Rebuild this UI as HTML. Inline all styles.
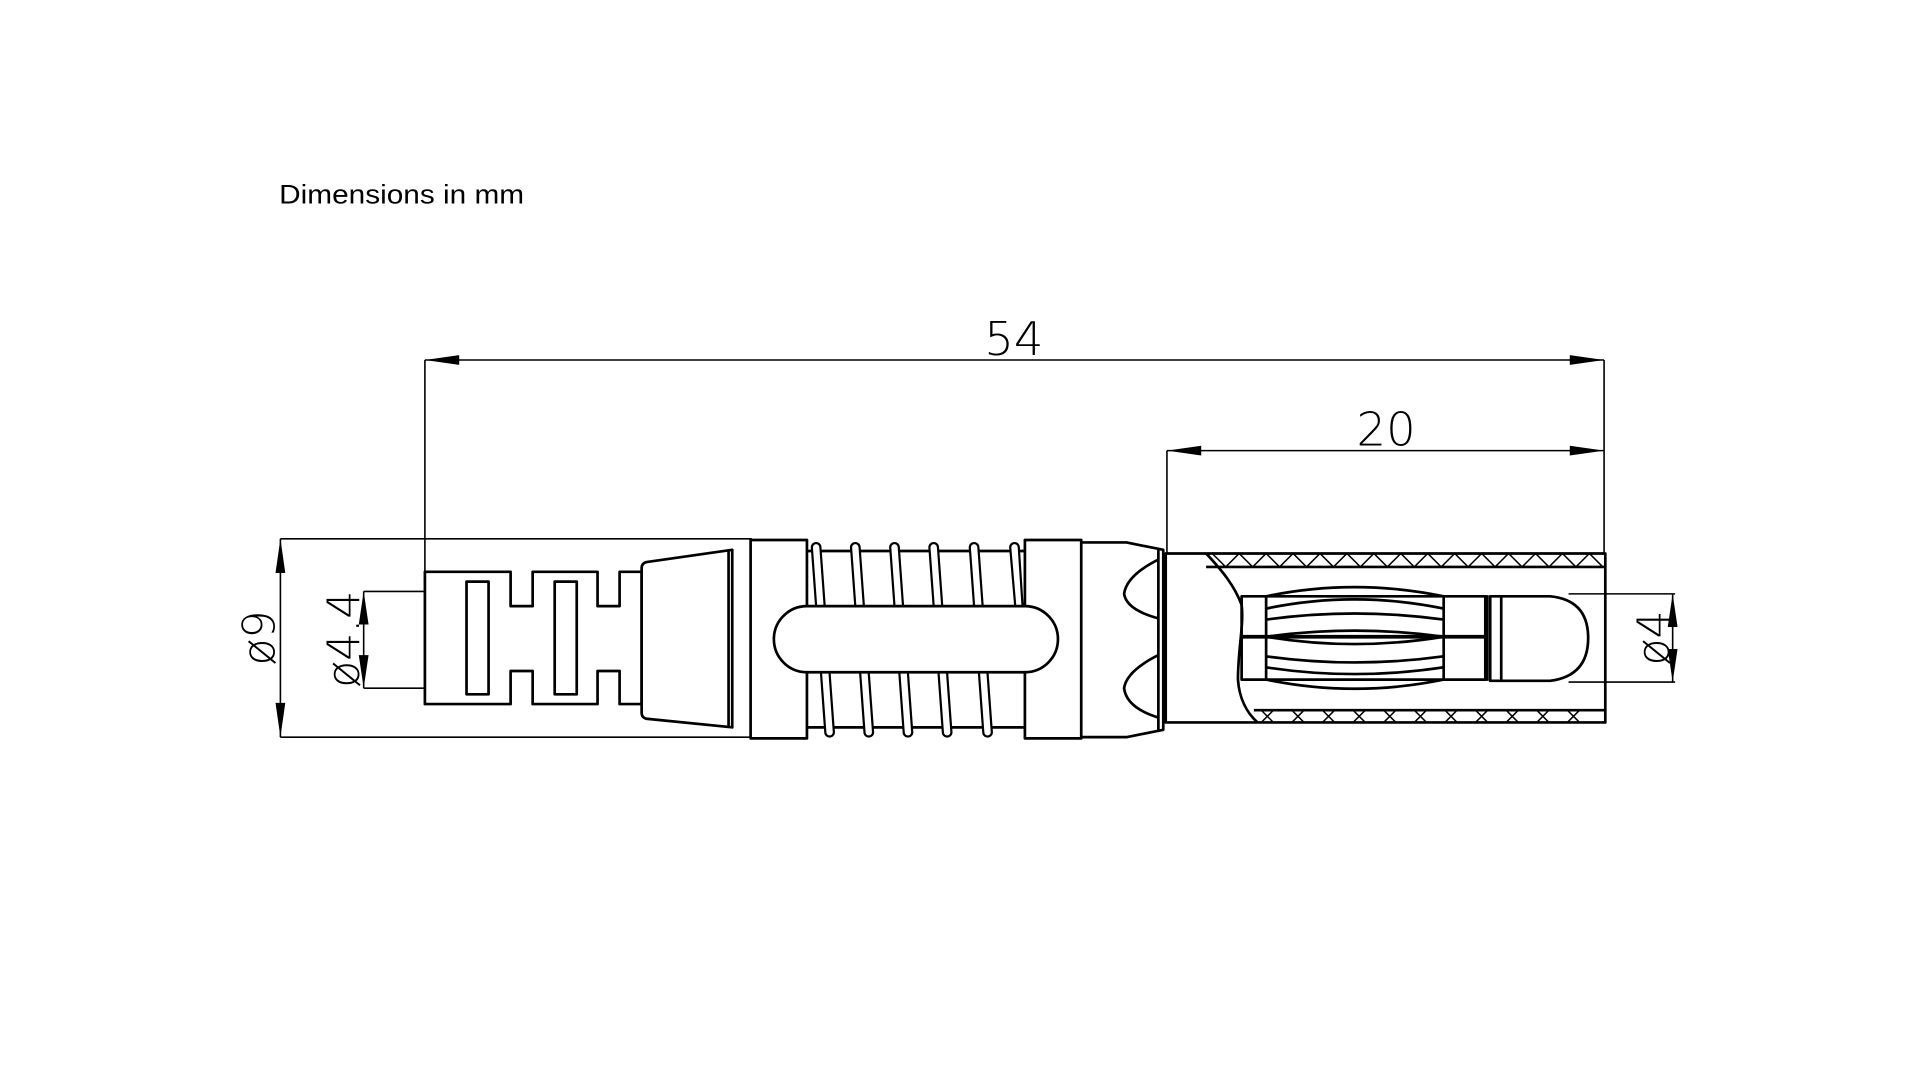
<!DOCTYPE html>
<html><head><meta charset="utf-8"><style>html,body{margin:0;padding:0;background:#fff}svg{display:block}</style></head>
<body>
<svg width="1920" height="1080" viewBox="0 0 1568 882" xmlns="http://www.w3.org/2000/svg" font-family="Liberation Sans, sans-serif">
<rect width="1568" height="882" fill="#fff"/>
<text x="228" y="166" font-size="22" textLength="200" lengthAdjust="spacingAndGlyphs">Dimensions in mm</text>
<g stroke="#000" stroke-width="1.3" fill="none">
<line x1="347" y1="294" x2="1310" y2="294"/>
<line x1="953" y1="368" x2="1310" y2="368"/>
<line x1="347" y1="294" x2="347" y2="467"/>
<line x1="953" y1="368" x2="953" y2="452"/>
<line x1="1310" y1="294" x2="1310" y2="452"/>
<line x1="229" y1="440" x2="229" y2="602"/>
<line x1="229" y1="440" x2="614" y2="440"/>
<line x1="229" y1="602" x2="614" y2="602"/>
<line x1="297" y1="483" x2="297" y2="562"/>
<line x1="297" y1="483" x2="347" y2="483"/>
<line x1="297" y1="562" x2="347" y2="562"/>
<line x1="1366" y1="485" x2="1366" y2="557"/>
<line x1="1281" y1="485" x2="1368" y2="485"/>
<line x1="1281" y1="557" x2="1368" y2="557"/>
</g>
<g fill="#000">
<polygon points="347,294 375,290 375,298"/>
<polygon points="1310,294 1282,290 1282,298"/>
<polygon points="953,368 981,364 981,372"/>
<polygon points="1310,368 1282,364 1282,372"/>
<polygon points="229,440 225,468 233,468"/>
<polygon points="229,602 225,574 233,574"/>
<polygon points="297,483 293,510 301,510"/>
<polygon points="297,562 293,535 301,535"/>
<polygon points="1366,485 1362,512 1370,512"/>
<polygon points="1366,557 1362,530 1370,530"/>
</g>
<g font-family="DejaVu Sans, sans-serif" font-weight="200" fill="#000">
<text x="828" y="290" font-size="38" text-anchor="middle">54</text>
<text x="1132" y="364" font-size="38" text-anchor="middle">20</text>
<text transform="translate(224,521) rotate(-90)" font-size="36" text-anchor="middle">ø9</text>
<text transform="translate(293,522) rotate(-90)" font-size="36" text-anchor="middle">ø4.4</text>
<text transform="translate(1363,521) rotate(-90)" font-size="36" text-anchor="middle">ø4</text>
</g>
<g stroke="#000" stroke-width="2.2" fill="none" stroke-linejoin="round">
<path d="M347,467 H417 V495 H435 V467 H488 V495 H506 V467 H524 V575 H506 V548 H488 V575 H435 V548 H417 V575 H347 Z"/>
<rect x="381" y="475" width="18" height="92"/>
<rect x="453" y="475" width="18" height="92"/>
<path d="M528,459 L598,449 V594 L528,587 Q524,586 524,582 V464 Q524,460 528,459 Z"/>
<line x1="595" y1="449" x2="595" y2="594"/>
<line x1="659" y1="450" x2="837" y2="450"/>
<line x1="659" y1="594" x2="837" y2="594"/>
<g stroke-width="1.8" fill="#fff">
<path d="M663,447 A3.5,3.5 0 0 1 670,447 L681,598 A3.5,3.5 0 0 1 674,598 Z"/>
<path d="M695,447 A3.5,3.5 0 0 1 702,447 L713,598 A3.5,3.5 0 0 1 706,598 Z"/>
<path d="M727,447 A3.5,3.5 0 0 1 734,447 L745,598 A3.5,3.5 0 0 1 738,598 Z"/>
<path d="M759,447 A3.5,3.5 0 0 1 766,447 L777,598 A3.5,3.5 0 0 1 770,598 Z"/>
<path d="M792,447 A3.5,3.5 0 0 1 799,447 L810,598 A3.5,3.5 0 0 1 803,598 Z"/>
<path d="M825,447 A3.5,3.5 0 0 1 832,447 L838,540 L833,540 Z"/>
</g>
<rect x="613" y="441" width="46" height="162" fill="#fff"/>
<rect x="837" y="441" width="46" height="162" fill="#fff"/>
<rect x="632" y="495" width="232" height="54" rx="27" ry="27" fill="#fff"/>
<path d="M883,443 H920 L950,449 V596 L920,602 H883"/>
<line x1="946" y1="449" x2="946" y2="596"/>
<path d="M946,457 Q920,470 918,485 Q920,498 946,505"/>
<path d="M946,535 Q920,548 918,562 Q920,578 946,586"/>
<path d="M952,452 H1311 V590 H952 Z"/>
<line x1="985" y1="463" x2="1311" y2="463"/>
<line x1="1024" y1="580" x2="1311" y2="580"/>
<path d="M985,452 C998,466 1008,478 1014,494 C1016,510 1011,530 1011,555 C1012,570 1018,582 1027,590"/>
<rect x="1014" y="487" width="199" height="68"/>
<line x1="1034" y1="487" x2="1034" y2="555"/>
<line x1="1179" y1="487" x2="1179" y2="555"/>
<line x1="1014" y1="520" x2="1213" y2="520" stroke-width="3"/>
<path d="M1034,487 Q1106,472 1179,487"/>
<path d="M1034,555 Q1106,570 1179,555"/>
<path d="M1034,497 Q1106,482 1179,497"/>
<path d="M1034,506 Q1106,496 1179,506"/>
<path d="M1034,520 Q1106,510 1179,520"/>
<path d="M1034,520 Q1106,532 1179,520"/>
<path d="M1034,536 Q1106,546 1179,536"/>
<path d="M1034,545 Q1106,556 1179,545"/>
<line x1="1214" y1="486" x2="1214" y2="556" stroke-width="3.5"/>
<path d="M1217,487 H1266 Q1297,490 1297,521 Q1297,552 1266,556 H1217 Z"/>
<line x1="1226" y1="487" x2="1226" y2="556"/>
</g>
<g stroke="#000" stroke-width="1.2" fill="none">
<path d="M990,452 L1001,463 L1012,452 L1023,463 L1034,452 L1045,463 L1056,452 L1067,463 L1078,452 L1089,463 L1100,452 L1111,463 L1122,452 L1133,463 L1144,452 L1155,463 L1166,452 L1177,463 L1188,452 L1199,463 L1210,452 L1221,463 L1232,452 L1243,463 L1254,452 L1265,463 L1276,452 L1287,463 L1298,452 L1309,463"/>
<path d="M1030,580 L1040,590 M1040,580 L1030,590 M1055,580 L1065,590 M1065,580 L1055,590 M1080,580 L1090,590 M1090,580 L1080,590 M1105,580 L1115,590 M1115,580 L1105,590 M1130,580 L1140,590 M1140,580 L1130,590 M1155,580 L1165,590 M1165,580 L1155,590 M1180,580 L1190,590 M1190,580 L1180,590 M1205,580 L1215,590 M1215,580 L1205,590 M1230,580 L1240,590 M1240,580 L1230,590 M1255,580 L1265,590 M1265,580 L1255,590 M1280,580 L1290,590 M1290,580 L1280,590"/>
</g>
</svg>
</body></html>
